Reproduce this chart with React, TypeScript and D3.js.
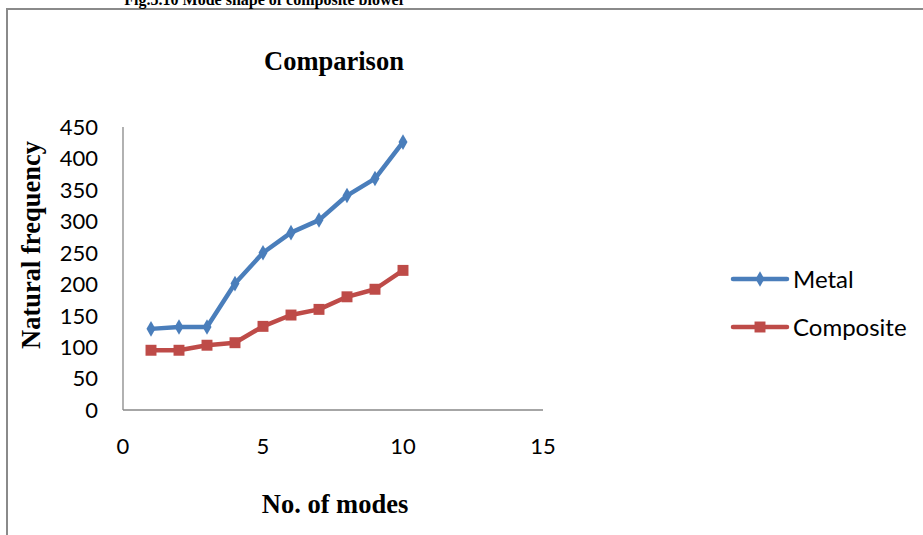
import React from 'react';
import * as d3 from 'd3';

// values
const modes = [1, 2, 3, 4, 5, 6, 7, 8, 9, 10];
const metal = [129, 132, 132, 201, 250, 282, 302, 341, 368, 426];
const composite = [95, 95, 103, 107, 133, 151, 160, 180, 192, 222];
const xTicks = [0, 5, 10, 15];
const yTicks = [0, 50, 100, 150, 200, 250, 300, 350, 400, 450];

const W = 923;
const H = 535;
const serif = '"Liberation Serif", "Times New Roman", serif';
const sans = 'Lato, "Open Sans", sans-serif';
const blue = '#4A7EBB';
const red = '#BE4B48';

const App = () => {
  const x = d3.scaleLinear().domain([0, 15]).range([123, 543]);
  const y = d3.scaleLinear().domain([0, 450]).range([410, 127]);

  const line = d3
    .line<number>()
    .x((_, i) => x(modes[i]))
    .y((d) => y(d));

  const diamond = d3.symbol().type(d3.symbolDiamond).size(70)();
  const square = d3.symbol().type(d3.symbolSquare).size(120)();

  return (
    <div style={{ position: 'absolute', left: 0, top: 0 }}>
      <svg width={W} height={H} style={{ display: 'block', background: '#fff' }}>
        {/* frame of the figure */}
        <path d={`M7,${H} V9 H${W}`} fill="none" stroke="#8a8a8a" strokeWidth={2} />
        <text x={265} y={5} textAnchor="middle" fontFamily={serif} fontWeight="bold" fontSize={16}>
          Fig.5.10 Mode shape of composite blower
        </text>

        <text x={334} y={70} textAnchor="middle" fontFamily={serif} fontWeight="bold" fontSize={26.5}>
          Comparison
        </text>

        {/* axes */}
        <line x1={x(0)} x2={x(0)} y1={y(450)} y2={y(0)} stroke="#888" strokeWidth={1.3} />
        <line x1={x(0)} x2={x(15)} y1={y(0)} y2={y(0)} stroke="#888" strokeWidth={1.3} />

        {yTicks.map((t) => (
          <text key={t} x={98} y={y(t)} dy="0.36em" textAnchor="end" fontFamily={sans} fontSize={22}>
            {t}
          </text>
        ))}
        {xTicks.map((t) => (
          <text key={t} x={x(t)} y={454} textAnchor="middle" fontFamily={sans} fontSize={22}>
            {t}
          </text>
        ))}

        <text
          transform={`translate(40,245) rotate(-90)`}
          textAnchor="middle"
          fontFamily={serif}
          fontWeight="bold"
          fontSize={26.5}
        >
          Natural frequency
        </text>
        <text x={335} y={513} textAnchor="middle" fontFamily={serif} fontWeight="bold" fontSize={26.5}>
          No. of modes
        </text>

        {/* series */}
        <path d={line(metal) || ''} fill="none" stroke={blue} strokeWidth={4.5} strokeLinejoin="round" />
        {metal.map((v, i) => (
          <path key={i} d={diamond || ''} transform={`translate(${x(modes[i])},${y(v)})`} fill={blue} />
        ))}
        <path d={line(composite) || ''} fill="none" stroke={red} strokeWidth={4.5} strokeLinejoin="round" />
        {composite.map((v, i) => (
          <path key={i} d={square || ''} transform={`translate(${x(modes[i])},${y(v)})`} fill={red} />
        ))}

        {/* legend */}
        <line x1={733} x2={787} y1={279} y2={279} stroke={blue} strokeWidth={4.5} strokeLinecap="round" />
        <path d={diamond || ''} transform="translate(760,279)" fill={blue} />
        <text x={793} y={279} dy="0.36em" fontFamily={sans} fontSize={24}>
          Metal
        </text>
        <line x1={733} x2={787} y1={327} y2={327} stroke={red} strokeWidth={4.5} strokeLinecap="round" />
        <path d={square || ''} transform="translate(760,327)" fill={red} />
        <text x={793} y={327} dy="0.36em" fontFamily={sans} fontSize={24}>
          Composite
        </text>
      </svg>
    </div>
  );
};

export default App;
